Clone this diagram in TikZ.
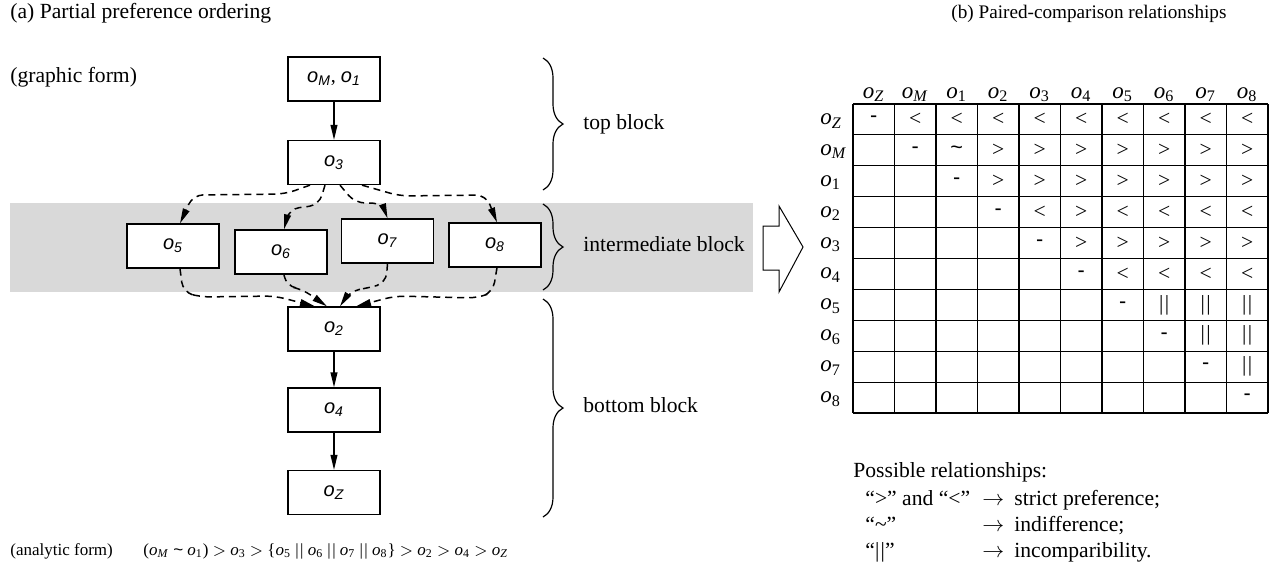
\documentclass[tikz,border=0pt]{standalone}
\usepackage{fontspec}
\setmainfont{Liberation Serif}
\setsansfont{Liberation Sans}
\usetikzlibrary{arrows.meta,calc,positioning,decorations.pathreplacing}

\newcommand{\ob}[1]{\textit{o}\textsubscript{#1}}
\newcommand{\sob}[1]{\textsf{\itshape o\textsubscript{#1}}}
\newcommand{\indiff}{\textsf{\textasciitilde}}
\newcommand{\incomp}{|\kern0.7pt|}
\newcommand{\diagmark}{\textsf{-}}

\tikzset{
  obox/.style={draw,line width=0.65pt,fill=white,minimum width=46pt,
    minimum height=22pt,inner sep=0pt,font=\fontsize{10}{12}\selectfont},
  solarr/.style={-{Triangle[length=7.5pt,width=3.4pt]},line width=0.75pt},
  dasharr/.style={solarr,dash pattern=on 3.5pt off 2.5pt,rounded corners=5pt},
  blockbrace/.style={decorate,decoration={brace,amplitude=10pt},line width=0.6pt},
  txt/.style={anchor=base west,inner sep=0pt},
  hdr/.style={inner sep=0pt,font=\fontsize{11.5}{13}\selectfont},
  cell/.style={inner sep=0pt},
  small/.style={font=\fontsize{8.5}{10}\selectfont},
}

\begin{document}
\begin{tikzpicture}[x=0.5pt,y=-0.5pt,font=\fontsize{10.8}{13}\selectfont]
  \useasboundingbox (0,0) rectangle (1274,570);
  \fill[black!15] (10,203) rectangle (753,292);

  % (a) graphic form
  \node[txt] (ta) at (10,18) {(a) Partial preference ordering};
  \node[txt] (gf) at (10,82) {(graphic form)};
  \node[obox] (oM) at (334,79) {\sob{M}, \sob{1}};
  \node[obox] (o3) at (334,162.5) {\sob{3}};
  \node[obox] (o5) at (173,246) {\sob{5}};
  \node[obox] (o6) at (281,252) {\sob{6}};
  \node[obox] (o7) at (387.5,241) {\sob{7}};
  \node[obox] (o8) at (495,245) {\sob{8}};
  \node[obox] (o2) at (334,329) {\sob{2}};
  \node[obox] (o4) at (334,410) {\sob{4}};
  \node[obox] (oZ) at (334,492.5) {\sob{\itshape Z}};

  \draw[solarr] (oM) -- (o3);
  \draw[solarr] (o2) -- (o4);
  \draw[solarr] (o4) -- (oZ);

  \draw[dasharr] ($(o3.south)+(-24,0)$) -- (285,194) -- (193,195) -- ($(o5.north)+(7,0)$);
  \draw[dasharr] ($(o3.south)+(-9,0)$) -- (319,205) -- (289,209) -- ($(o6.north)+(3,0)$);
  \draw[dasharr] ($(o3.south)+(6,0)$) -- (355,203) -- (382,203) -- (o7.north);
  \draw[dasharr] ($(o3.south)+(28,0)$) -- (400,196) -- (486,195) -- ($(o8.north)+(2,0)$);

  \draw[dasharr] ($(o5.south)+(7,0)$) -- (183,292) -- (200,297) -- (275,296) -- ($(o2.north)+(-19,0)$);
  \draw[dasharr] ($(o6.south)+(3,0)$) -- (286,286) -- (302,289) -- ($(o2.north)+(-7,0)$);
  \draw[dasharr] (o7.south) -- (386,283) -- (368,288) -- (350,291) -- ($(o2.north)+(6,0)$);
  \draw[dasharr] ($(o8.south)+(2,0)$) -- (493,292) -- (478,298) -- (395,296) -- ($(o2.north)+(22,0)$);

  \draw[blockbrace] (543,58) -- (543,190);
  \draw[blockbrace] (543,204) -- (543,290);
  \draw[blockbrace] (543,299) -- (543,517);
  \node[txt] (tb) at (583,129) {top block};
  \node[txt] (ib) at (583,251) {intermediate block};
  \node[txt] (bb) at (583,412) {bottom block};

  \node[txt,small] (af) at (10,555) {(analytic form)};
  \node[txt,small] (form) at (143,555)
    {(\ob{\textit{M}} \indiff{} \ob{1}) $>$ \ob{3} $>$ \{\ob{5} \incomp{} \ob{6} \incomp{} \ob{7} \incomp{} \ob{8}\} $>$ \ob{2} $>$ \ob{4} $>$ \ob{\textit{Z}}};

  \draw[line width=0.5pt,fill=white] (763,226) -- (779,226) -- (779,206) -- (803,247)
    -- (779,292) -- (779,270) -- (763,270) -- cycle;

  % (b) paired comparisons
  \node[txt,font=\fontsize{9.6}{12}\selectfont] (tbb) at (951,18) {(b) Paired-comparison relationships};
  \foreach \i in {0,...,10} {
    \draw[line width=0.55pt] ({853+41.5*\i},104) -- ({853+41.5*\i},413);
    \draw[line width=0.55pt] (853,{104+30.9*\i}) -- (1268,{104+30.9*\i});
  }
  \foreach \lab [count=\i] in {\textit{Z},\textit{M},1,2,3,4,5,6,7,8} {
    \node[hdr,anchor=base] (h\i) at ({853+41.5*\i-20.75},98) {\ob{\lab}};
    \node[hdr,anchor=base west] (r\i) at (820,{104+30.9*\i-10.5}) {\ob{\lab}};
  }
  \foreach \row [count=\r] in {
      {\diagmark,<,<,<,<,<,<,<,<,<},
      {\diagmark,\indiff,>,>,>,>,>,>,>},
      {\diagmark,>,>,>,>,>,>,>},
      {\diagmark,<,>,<,<,<,<},
      {\diagmark,>,>,>,>,>},
      {\diagmark,<,<,<,<},
      {\diagmark,\incomp,\incomp,\incomp},
      {\diagmark,\incomp,\incomp},
      {\diagmark,\incomp},
      {\diagmark}} {
    \foreach \sym [count=\k] in \row
      \node[cell] (c\r-\k) at ({853+41.5*(\r+\k-1)-20.75},{104+30.9*\r-15.45}) {\sym};
  }

  \node[txt] (poss) at (853,477) {Possible relationships:};
  \node[txt] (q1) at (865,505) {``>'' and ``<''};
  \node[txt] (q2) at (865,531) {``\textasciitilde''};
  \node[txt] (q3) at (865,557) {``\incomp''};
  \node[txt] (a1) at (982,505) {$\rightarrow$};
  \node[txt] (a2) at (982,531) {$\rightarrow$};
  \node[txt] (a3) at (982,557) {$\rightarrow$};
  \node[txt] (d1) at (1014,505) {strict preference;};
  \node[txt] (d2) at (1014,531) {indifference;};
  \node[txt] (d3) at (1014,557) {incomparibility.};
\end{tikzpicture}
\end{document}
